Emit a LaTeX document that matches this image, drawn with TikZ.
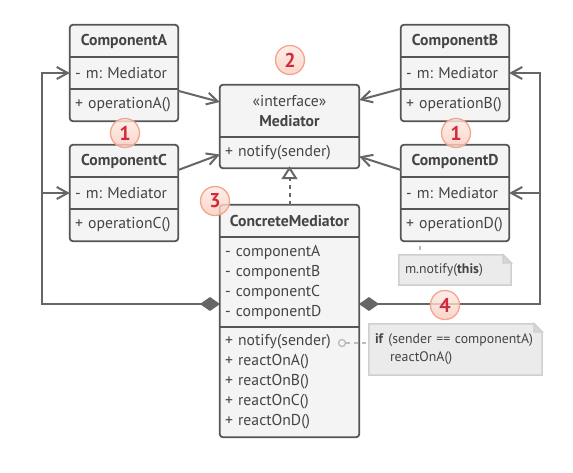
\documentclass[tikz,border=0pt]{standalone}
\usepackage{fontspec}
\setmainfont{PT Sans}
\usetikzlibrary{arrows.meta,backgrounds}
\frenchspacing

\definecolor{ink}{HTML}{444444}
\definecolor{edge}{HTML}{555555}
\definecolor{boxfill}{HTML}{F4F4F4}
\definecolor{wire}{HTML}{666666}
\definecolor{badgeRim}{HTML}{F4A48E}
\definecolor{badgeTop}{HTML}{FDEAE3}
\definecolor{badgeBot}{HTML}{F8CBBD}
\definecolor{badgeNum}{HTML}{D02B3C}
\definecolor{noteFill}{HTML}{EBEBEB}
\definecolor{noteRim}{HTML}{CFCFCF}
\definecolor{linkGray}{HTML}{BBBBBB}

\tikzset{
  head/.style={inner sep=0pt, minimum height=32pt, align=center, text=ink,
    font=\bfseries\fontsize{15.7}{20}\selectfont},
  sect/.style={inner xsep=5pt, inner ysep=0pt, align=left, text=ink,
    font=\fontsize{15.7}{20}\selectfont},
  classbox/.style={draw=edge, fill=boxfill, line width=1.8pt, rounded corners=3pt},
  divider/.style={draw=edge, line width=1.8pt},
  assoc/.style={draw=wire, line width=2pt, -{Straight Barb[length=11pt,width=12pt]}},
  aggr/.style={draw=wire, line width=2pt,
    {Diamond[length=20pt,width=14pt,fill=wire]}-{Straight Barb[length=11pt,width=12pt]}},
  realize/.style={draw=wire, line width=2pt, dash pattern=on 4pt off 4pt,
    -{Triangle[open,fill=white,length=13pt,width=16pt]}, shorten >=-2pt},
  badge/.style={circle, minimum size=29pt, inner sep=0pt, draw=badgeRim, line width=1.3pt,
    top color=badgeTop, bottom color=badgeBot, fill opacity=0.8, text opacity=1,
    text=badgeNum, font=\bfseries\fontsize{20}{20}\selectfont},
  notetext/.style={inner xsep=6pt, inner ysep=0pt, align=left, text=ink,
    font=\fontsize{13.8}{18}\selectfont},
  notebox/.style={draw=noteRim, fill=noteFill, line width=1.5pt},
  notelink/.style={draw=linkGray, line width=1.5pt},
}

\begin{document}
\begin{tikzpicture}[x=1pt, y=-1pt]
\useasboundingbox (0,0) rectangle (573,472);

% ---- ComponentA
\node[head, minimum width=108pt] (ca-name) at (124,41) {ComponentA};
\node[sect, text width=98pt, minimum height=32pt] (ca-attr) at (124,73) {- m: Mediator};
\node[sect, text width=98pt, minimum height=32pt] (ca-ops) at (124,105) {+ operationA()};
% ---- ComponentC
\node[head, minimum width=108pt] (cc-name) at (124,161) {ComponentC};
\node[sect, text width=98pt, minimum height=32pt] (cc-attr) at (124,193) {- m: Mediator};
\node[sect, text width=98pt, minimum height=32pt] (cc-ops) at (124,225) {+ operationC()};
% ---- ComponentB
\node[head, minimum width=108pt] (cb-name) at (455,41) {ComponentB};
\node[sect, text width=98pt, minimum height=32pt] (cb-attr) at (455,73) {- m: Mediator};
\node[sect, text width=98pt, minimum height=32pt] (cb-ops) at (455,105) {+ operationB()};
% ---- ComponentD
\node[head, minimum width=108pt] (cd-name) at (455,161) {ComponentD};
\node[sect, text width=98pt, minimum height=32pt] (cd-attr) at (455,193) {- m: Mediator};
\node[sect, text width=98pt, minimum height=32pt] (cd-ops) at (455,225) {+ operationD()};

% ---- Mediator interface
\node[inner sep=0pt, minimum width=139pt, minimum height=52pt, align=center, text=ink,
      font=\fontsize{15.7}{20}\selectfont] (med-top) at (289.5,111)
      {«interface»\\\textbf{Mediator}};
\node[sect, text width=129pt, minimum height=31pt] (med-ops) at (289.5,152.5) {+ notify(sender)};

% ---- ConcreteMediator
\node[head, minimum width=139pt] (cm-name) at (289.5,221) {ConcreteMediator};
\node[sect, text width=129pt, minimum height=90pt] (cm-attr) at (289.5,282)
  {- componentA\\- componentB\\- componentC\\- componentD};
\node[sect, text width=129pt, minimum height=110pt] (cm-ops) at (289.5,382)
  {+ notify(sender)\\+ reactOnA()\\+ reactOnB()\\+ reactOnC()\\+ reactOnD()};

% ---- class frames
\begin{scope}[on background layer]
  \foreach \c in {ca,cb,cc,cd,cm}{
    \path[classbox] (\c-name.north west) rectangle (\c-ops.south east);
    \draw[divider] (\c-attr.north west) -- (\c-attr.north east);
    \draw[divider] (\c-ops.north west) -- (\c-ops.north east);
  }
  \path[classbox] (med-top.north west) rectangle (med-ops.south east);
  \draw[divider] (med-ops.north west) -- (med-ops.north east);
\end{scope}

% ---- notes
\node[notetext, text width=100pt, minimum height=30pt] (n1) at (455,270) {m.notify(\textbf{this})};
\node[notetext, text width=161pt, minimum height=51pt] (n2) at (455.5,349.5)
  {\textbf{if} (sender == componentA)\\\hspace*{15pt}reactOnA()};
\begin{scope}[on background layer]
  \foreach \n in {n1,n2}{
    \path[notebox] (\n.north west) -- ([xshift=-8pt]\n.north east)
      -- ([yshift=-8pt]\n.north east) -- (\n.south east) -- (\n.south west) -- cycle;
    \path[notebox, fill=noteRim!70!noteFill] ([xshift=-8pt]\n.north east)
      -- ([xshift=-8pt,yshift=-8pt]\n.north east) -- ([yshift=-8pt]\n.north east) -- cycle;
  }
\end{scope}

% ---- note links
\coordinate (dlink) at (420,241);
\draw[notelink, dash pattern=on 4pt off 10pt, dash phase=9pt] (dlink) -- (dlink |- n1.north);
\node[circle, draw=linkGray, line width=1.3pt, minimum size=7pt, inner sep=0pt] (ndot) at (342,343) {};
\draw[notelink, dash pattern=on 4pt off 4pt] (ndot) -- (ndot -| n2.west);

% ---- components reference the mediator
\draw[assoc] ([yshift=-2pt]ca-ops.north east) -- ([yshift=9pt]med-top.west);
\draw[assoc] ([yshift=-9pt]cc-name.east) -- ([yshift=-2pt]med-ops.west);
\draw[assoc] (cb-ops.north west) -- ([yshift=11pt]med-top.east);
\draw[assoc] ([yshift=-9pt]cd-name.west) -- ([yshift=-4pt]med-ops.east);

% ---- implementation
\draw[realize] (cm-name.north) -- (med-ops.south);

% ---- concrete mediator holds the components
\coordinate (cmL) at (220,304);
\coordinate (cmR) at (359,304);
\coordinate (lbus) at (42,304);
\coordinate (rbus) at (540,304);
\draw[aggr] (cmL) -- (lbus) |- (ca-attr.west);
\draw[assoc] (lbus |- cc-attr.west) -- (cc-attr.west);
\draw[aggr] (cmR) -- (rbus) |- (cb-attr.east);
\draw[assoc] (rbus |- cd-attr.east) -- (cd-attr.east);

% ---- step badges
\node[badge] (b1l) at (125,133) {1};
\node[badge] (b1r) at (456,133) {1};
\node[badge] (b2) at (290,60) {2};
\node[badge] (b3) at (215,201) {3};
\node[badge] (b4) at (445,305) {4};
\end{tikzpicture}
\end{document}
